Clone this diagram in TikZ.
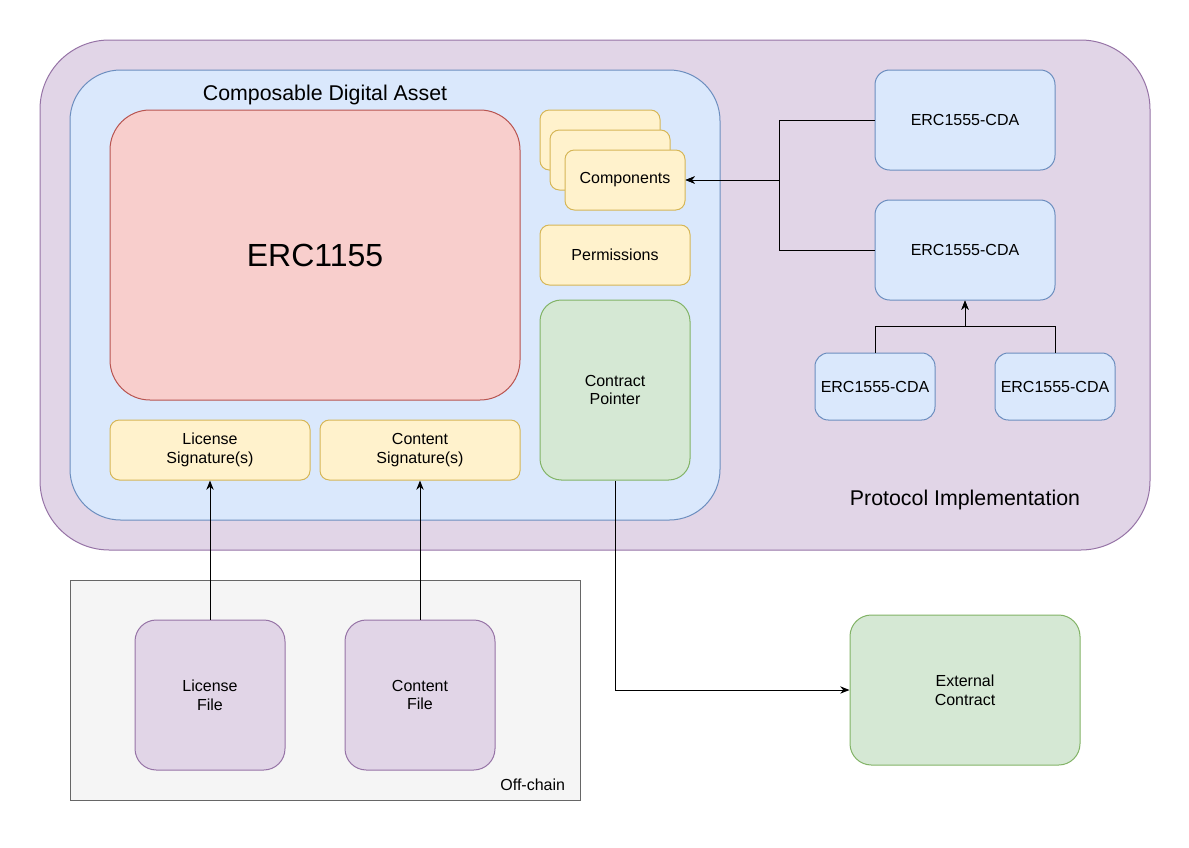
\documentclass[tikz,border=0pt]{standalone}
\usepackage{fontspec}
\setmainfont{Liberation Sans}
\usetikzlibrary{arrows.meta}
\definecolor{purplefill}{HTML}{E1D5E7}
\definecolor{purpleline}{HTML}{9673A6}
\definecolor{bluefill}{HTML}{DAE8FC}
\definecolor{blueline}{HTML}{6C8EBF}
\definecolor{redfill}{HTML}{F8CECC}
\definecolor{redline}{HTML}{B85450}
\definecolor{yellowfill}{HTML}{FFF2CC}
\definecolor{yellowline}{HTML}{D6B656}
\definecolor{greenfill}{HTML}{D5E8D4}
\definecolor{greenline}{HTML}{82B366}
\definecolor{greyfill}{HTML}{F5F5F5}
\definecolor{greyline}{HTML}{666666}

\begin{document}
\begin{tikzpicture}[x=0.75pt, y=-0.75pt, line width=0.75pt, font=\fontsize{12}{14}\selectfont]
\useasboundingbox (0,0) rectangle (1189,847);
\tikzset{sz/.style 2 args={minimum width=#1*0.75pt, minimum height=#2*0.75pt, inner sep=0pt, align=center}}
\tikzset{purplebox/.style={draw=purpleline, fill=purplefill}}
\tikzset{bluebox/.style={draw=blueline, fill=bluefill}}
\tikzset{yellowbox/.style={draw=yellowline, fill=yellowfill, rounded corners=7pt}}
\tikzset{greenbox/.style={draw=greenline, fill=greenfill, rounded corners=16pt}}
\tikzset{arrow/.style={-{Stealth[length=7pt, width=5.5pt]}, black}}
% protocol and asset
\node[purplebox, sz={1110}{510}, rounded corners=52pt] (proto) at (595,295) {};
\node[font=\fontsize{16}{19}\selectfont] (protolabel) at (965,500) {Protocol Implementation};
\node[bluebox, sz={650}{450}, rounded corners=38pt] (cda) at (395,295) {};
\node[font=\fontsize{16}{19}\selectfont] (cdalabel) at (325,95) {Composable Digital Asset};
\node[draw=redline, fill=redfill, sz={410}{290}, rounded corners=30pt, font=\fontsize{24}{28}\selectfont] (erc) at (315,255) {ERC1155};
% parts of the asset
\node[yellowbox, sz={120}{60}] (comp1) at (600,140) {};
\node[yellowbox, sz={120}{60}] (comp2) at (610,160) {};
\node[yellowbox, sz={120}{60}] (comp3) at (625,180) {Components};
\node[yellowbox, sz={150}{60}] (perm) at (615,255) {Permissions};
\node[greenbox, sz={150}{180}] (ptr) at (615,390) {Contract\\Pointer};
\node[yellowbox, sz={200}{60}] (lsig) at (210,450) {License\\Signature(s)};
\node[yellowbox, sz={200}{60}] (csig) at (420,450) {Content\\Signature(s)};
% implementations
\node[bluebox, sz={180}{100}, rounded corners=11pt] (cdaA) at (965,120) {ERC1555-CDA};
\node[bluebox, sz={180}{100}, rounded corners=11pt] (cdaB) at (965,250) {ERC1555-CDA};
\node[bluebox, sz={120}{67}, rounded corners=10pt] (cdaC) at (875,386.5) {ERC1555-CDA};
\node[bluebox, sz={120}{67}, rounded corners=10pt] (cdaD) at (1055,386.5) {ERC1555-CDA};
% off-chain
\node[draw=greyline, fill=greyfill, sz={510}{220}] (offchain) at (325,690) {};
\node[anchor=east] (offlabel) at (570,785) {Off-chain};
\node[purplebox, sz={150}{150}, rounded corners=16pt] (lfile) at (210,695) {License\\File};
\node[purplebox, sz={150}{150}, rounded corners=16pt] (cfile) at (420,695) {Content\\File};
\node[greenbox, sz={230}{150}] (ext) at (965,690) {External\\Contract};
% connectors
\draw[arrow] (cdaA.west) -- ++(-95,0) |- (comp3.east);
\draw[arrow] (cdaB.west) -- ++(-95,0) |- (comp3.east);
\draw[arrow] (cdaC.north) -- ++(0,-26) -| (cdaB.south);
\draw[arrow] (cdaD.north) -- ++(0,-26) -| (cdaB.south);
\draw[arrow] (lfile.north) -- (lsig.south);
\draw[arrow] (cfile.north) -- (csig.south);
\draw[arrow] (ptr.south) |- (ext.west);
\end{tikzpicture}
\end{document}
